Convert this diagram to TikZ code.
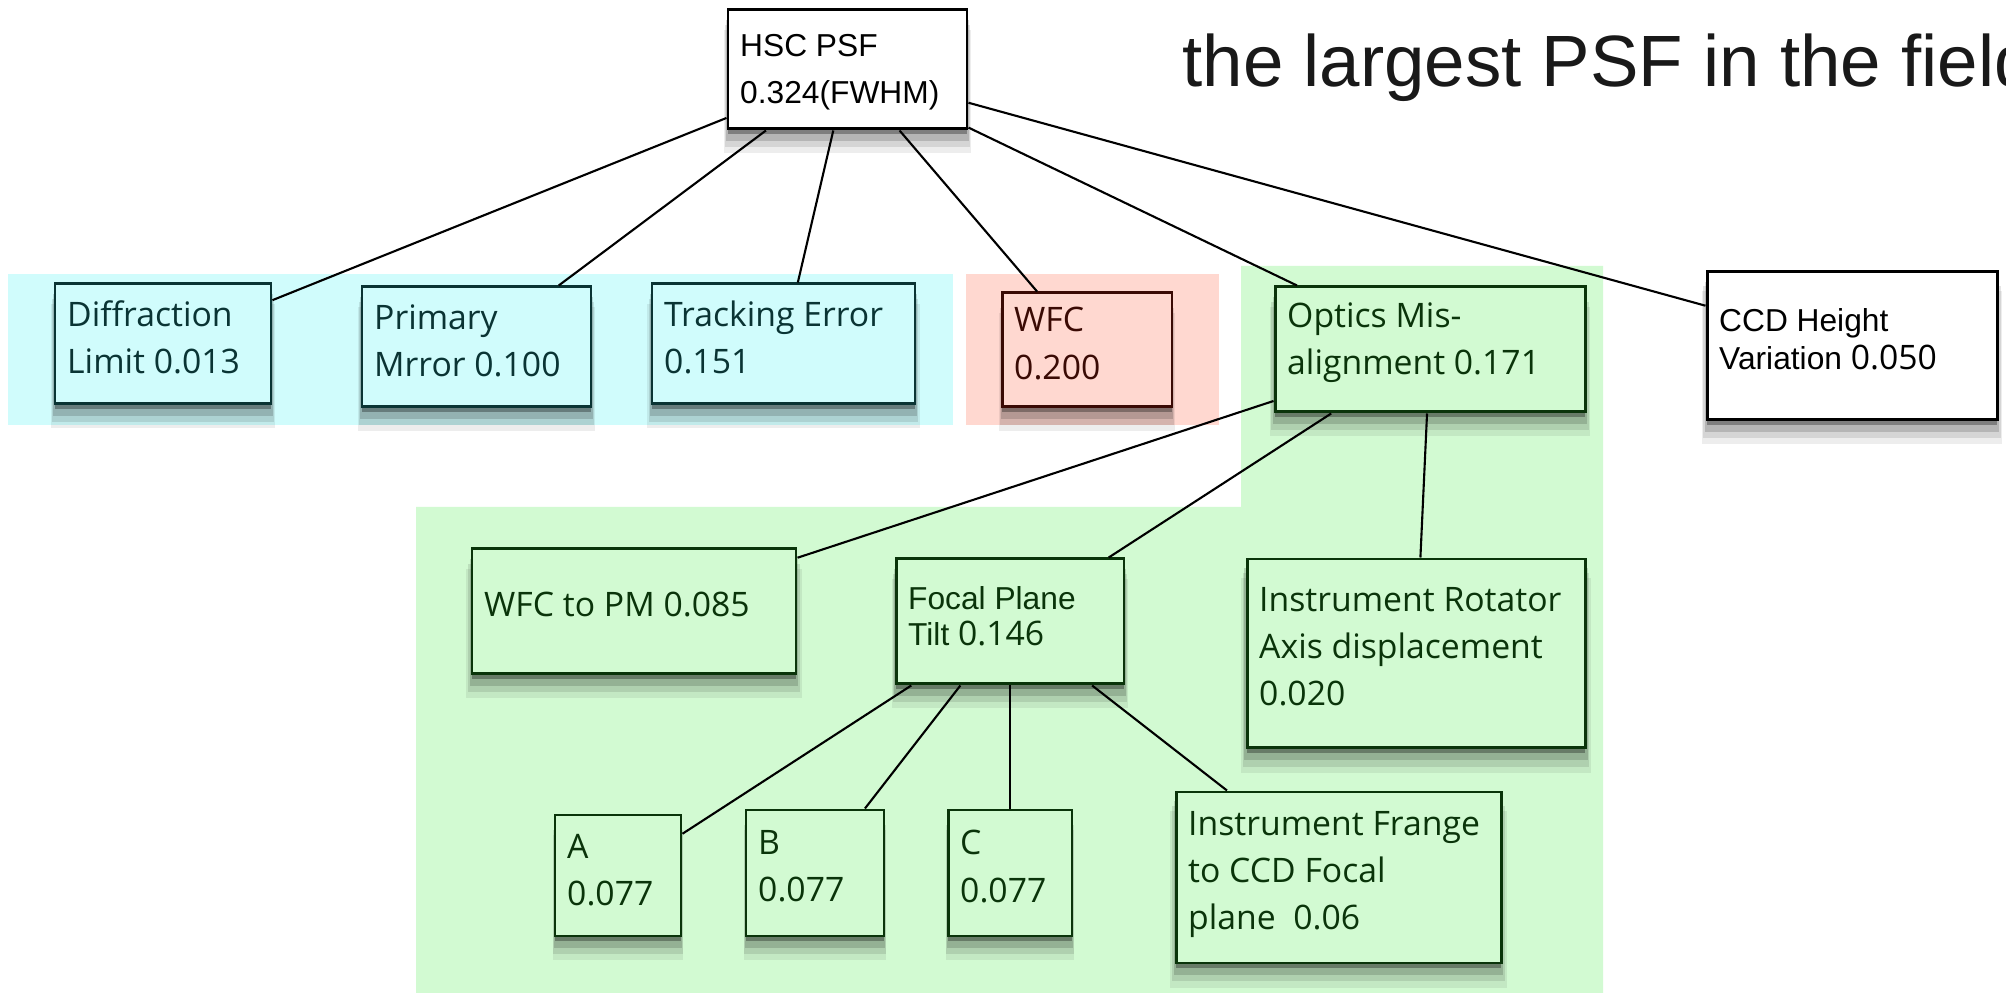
\documentclass[tikz,border=0pt]{standalone}
\usepackage{fontspec}
\setmainfont{Open Sans}
\newfontfamily\helv{Liberation Sans}[Scale=0.94]
\usetikzlibrary{shadows}
\definecolor{cyanbg}{HTML}{D0FCFC}
\definecolor{cyanline}{HTML}{0A3434}
\definecolor{pinkbg}{HTML}{FFD8D0}
\definecolor{pinkline}{HTML}{3A0A04}
\definecolor{greenbg}{HTML}{D2FAD2}
\definecolor{greenline}{HTML}{0A340A}
\begin{document}
\begin{tikzpicture}[x=0.1mm,y=-0.1mm]

    \tikzset{
      box/.style={
        draw,
        line width=0.85pt,
        inner sep=0pt,
        general shadow={fill=black,opacity=0.07,shadow yshift=-6pt,shadow scale=1.035},
        general shadow={fill=black,opacity=0.1,shadow yshift=-4.5pt,shadow scale=1.025},
        general shadow={fill=black,opacity=0.15,shadow yshift=-3pt,shadow scale=1.015},
        general shadow={fill=black,opacity=0.3,shadow yshift=-1.5pt},
      },
      cyanbox/.style={box,draw=cyanline,fill=cyanbg},
      pinkbox/.style={box,draw=pinkline,fill=pinkbg},
      greenbox/.style={box,draw=greenline,fill=greenbg},
      whitebox/.style={box,draw=black,fill=white},
      txt/.style={
        anchor=west,
        align=left,
        inner xsep=1.3mm,
        inner ysep=0pt,
        yshift=0.65mm,
        font=\fontsize{9.6}{13.4}\selectfont,
      },
      link/.style={line width=0.6pt},
    }
    \useasboundingbox (0,0) rectangle (2006,993);
    \clip (0,0) rectangle (2006,993);
    % coloured groups
    \fill[cyanbg] (8,274) rectangle (953,425);
    \fill[pinkbg] (966,274) rectangle (1219,425);
    \fill[greenbg] (1241,266) -- (1603,266) -- (1603,993) -- (416,993) -- (416,507) -- (1241,507) -- cycle;

    \node[anchor=base west,text=black!90,font=\helv\fontsize{22}{26}\selectfont] (title) at (1170,87) {the largest PSF in the field};

    % top
    \node[whitebox,minimum width=23.9mm,minimum height=11.9mm,
      label={[txt,yshift=-0.9mm,font=\helv\fontsize{9.6}{13.4}\selectfont]west:HSC PSF\\0.324(FWHM)}] (hsc) at (847.5,69.5) {};

    % first level
    \node[cyanbox,minimum width=21.6mm,minimum height=12mm,
      label={[txt,text=cyanline]west:Diffraction\\Limit 0.013}] (diff) at (163,344) {};
    \node[cyanbox,minimum width=22.9mm,minimum height=12mm,
      label={[txt,text=cyanline]west:Primary\\Mrror 0.100}] (prim) at (476.5,347) {};
    \node[cyanbox,minimum width=26.3mm,minimum height=12mm,
      label={[txt,text=cyanline]west:Tracking Error\\0.151}] (track) at (783.5,344) {};
    \node[pinkbox,minimum width=17mm,minimum height=11.4mm,
      label={[txt,text=pinkline]west:WFC\\0.200}] (wfc) at (1087,350) {};
    \node[greenbox,minimum width=31mm,minimum height=12.5mm,
      label={[txt,text=greenline]west:Optics Mis-\\alignment 0.171}] (optics) at (1430,349.5) {};
    \node[whitebox,minimum width=29mm,minimum height=14.8mm,
      label={[txt,font=\fontsize{9.6}{10.8}\selectfont]west:\helv CCD Height\\\helv Variation \rmfamily 0.050}] (ccd) at (1852,346) {};

    % optics
    \node[greenbox,minimum width=32.4mm,minimum height=12.5mm,
      label={[txt,text=greenline]west:WFC to PM 0.085}] (wfcpm) at (634,611.5) {};
    \node[greenbox,minimum width=22.8mm,minimum height=12.5mm,
      label={[txt,text=greenline,yshift=-0.1mm,font=\fontsize{9.6}{10.3}\selectfont]west:\helv Focal Plane\\\helv Tilt \rmfamily 0.146}] (focal) at (1010,621.5) {};
    \node[greenbox,minimum width=33.8mm,minimum height=18.9mm,
      label={[txt,text=greenline]west:Instrument Rotator\\Axis displacement\\0.020}] (rot) at (1416,653.5) {};

    % focal plane
    \node[greenbox,minimum width=12.6mm,minimum height=12.1mm,
      label={[txt,text=greenline,yshift=-0.15mm]west:A\\0.077}] (a) at (618,875.5) {};
    \node[greenbox,minimum width=13.8mm,minimum height=12.6mm,
      label={[txt,text=greenline]west:B\\0.077}] (b) at (815,873) {};
    \node[greenbox,minimum width=12.4mm,minimum height=12.6mm,
      label={[txt,text=greenline]west:C\\0.077}] (c) at (1010,873) {};
    \node[greenbox,minimum width=32.5mm,minimum height=17.1mm,
      label={[txt,text=greenline,yshift=-0.35mm]west:Instrument Frange\\to CCD Focal\\plane\ \ 0.06}] (frange) at (1338.5,877.5) {};

    \draw[link] (hsc) -- (diff);
    \draw[link] (hsc) -- (prim);
    \draw[link] (hsc) -- (track);
    \draw[link] (hsc) -- (wfc);
    \draw[link] (hsc) -- (optics);
    \draw[link] (hsc) -- (ccd);
    \draw[link] (optics) -- (wfcpm);
    \draw[link] (optics) -- (focal);
    \draw[link] (optics) -- (rot);
    \draw[link] (focal) -- (a);
    \draw[link] (focal) -- (b);
    \draw[link] (focal) -- (c);
    \draw[link] (focal) -- (frange);

\end{tikzpicture}
\end{document}
